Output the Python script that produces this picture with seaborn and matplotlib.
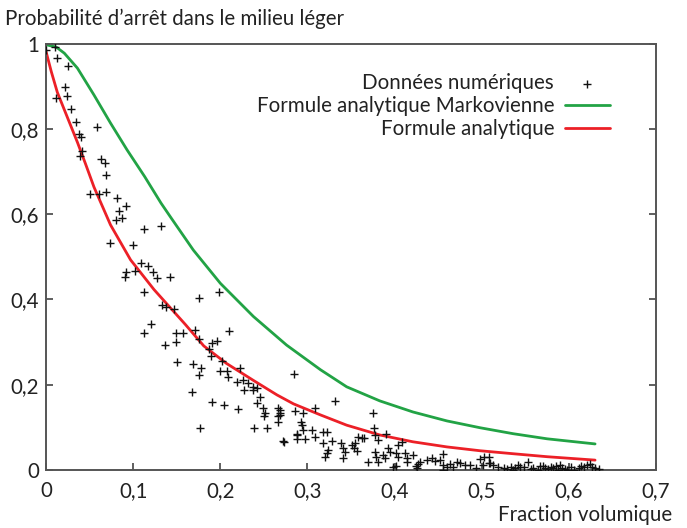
"""
Probabilité d'arrêt dans le milieu léger vs fraction volumique
"""
import matplotlib
matplotlib.use("Agg")
import matplotlib.pyplot as plt
import pandas as pd
import seaborn as sns

# numerical data
pts_x = [
    0.000, 0.010, 0.013, 0.025, 0.022, 0.024, 0.012, 0.029, 0.034, 0.038, 0.040, 0.041, 0.039,
    0.059, 0.063, 0.068, 0.069, 0.050, 0.061, 0.069, 0.082, 0.092, 0.084, 0.087, 0.080, 0.112,
    0.132, 0.073, 0.100, 0.109, 0.117, 0.123, 0.092, 0.091, 0.102, 0.127, 0.142, 0.112, 0.198,
    0.175, 0.133, 0.138, 0.147, 0.121, 0.112, 0.149, 0.157, 0.171, 0.210, 0.137, 0.149, 0.176,
    0.190, 0.196, 0.187, 0.189, 0.150, 0.169, 0.178, 0.175, 0.202, 0.200, 0.208, 0.209, 0.223,
    0.219, 0.226, 0.227, 0.232, 0.238, 0.242, 0.238, 0.245, 0.242, 0.168, 0.190, 0.204, 0.220,
    0.249, 0.251, 0.250, 0.266, 0.269, 0.266, 0.266, 0.285, 0.177, 0.239, 0.254, 0.272, 0.288,
    0.288, 0.269, 0.269, 0.273, 0.286, 0.295, 0.309, 0.332, 0.293, 0.294, 0.295, 0.288, 0.297,
    0.305, 0.309, 0.318, 0.322, 0.318, 0.328, 0.324, 0.322, 0.320, 0.338, 0.341, 0.343, 0.341,
    0.351, 0.353, 0.357, 0.355, 0.358, 0.362, 0.365, 0.375, 0.376, 0.377, 0.381, 0.390, 0.377,
    0.379, 0.381, 0.369, 0.387, 0.389, 0.392, 0.395, 0.404, 0.408, 0.402, 0.404, 0.398, 0.402,
    0.412, 0.414, 0.414, 0.421, 0.424, 0.426, 0.427, 0.429, 0.437, 0.443, 0.446, 0.452, 0.456,
    0.456, 0.460, 0.464, 0.467, 0.471, 0.456, 0.475, 0.481, 0.487, 0.493, 0.498, 0.502, 0.508,
    0.508, 0.513, 0.519, 0.525, 0.533, 0.536, 0.538, 0.544, 0.548, 0.553, 0.556, 0.559, 0.564,
    0.570, 0.573, 0.576, 0.579, 0.582, 0.585, 0.588, 0.592, 0.595, 0.598, 0.602, 0.606, 0.611,
    0.617, 0.621, 0.627, 0.630, 0.634, 0.501, 0.510, 0.529, 0.541, 0.567, 0.590, 0.614, 0.624,
]
pts_y = [
    0.986, 0.993, 0.967, 0.948, 0.899, 0.878, 0.873, 0.847, 0.817, 0.789, 0.782, 0.749, 0.737,
    0.805, 0.730, 0.720, 0.692, 0.648, 0.648, 0.653, 0.638, 0.620, 0.608, 0.592, 0.587, 0.566,
    0.573, 0.533, 0.528, 0.486, 0.479, 0.465, 0.465, 0.453, 0.467, 0.451, 0.453, 0.418, 0.418,
    0.404, 0.387, 0.383, 0.378, 0.343, 0.322, 0.322, 0.322, 0.329, 0.326, 0.293, 0.300, 0.308,
    0.298, 0.303, 0.284, 0.268, 0.254, 0.249, 0.239, 0.223, 0.256, 0.232, 0.232, 0.218, 0.239,
    0.207, 0.211, 0.188, 0.204, 0.195, 0.192, 0.188, 0.171, 0.157, 0.183, 0.160, 0.153, 0.143,
    0.146, 0.134, 0.127, 0.146, 0.134, 0.127, 0.113, 0.225, 0.099, 0.099, 0.099, 0.068, 0.082,
    0.073, 0.141, 0.129, 0.066, 0.138, 0.134, 0.146, 0.162, 0.113, 0.106, 0.094, 0.085, 0.073,
    0.094, 0.078, 0.090, 0.090, 0.064, 0.068, 0.047, 0.040, 0.031, 0.064, 0.052, 0.043, 0.028,
    0.059, 0.052, 0.045, 0.064, 0.078, 0.075, 0.075, 0.134, 0.099, 0.082, 0.070, 0.085, 0.043,
    0.031, 0.019, 0.019, 0.035, 0.028, 0.052, 0.043, 0.059, 0.066, 0.040, 0.031, 0.007, 0.009,
    0.040, 0.028, 0.019, 0.035, 0.009, 0.005, 0.014, 0.019, 0.023, 0.028, 0.021, 0.023, 0.038,
    0.012, 0.007, 0.014, 0.007, 0.019, 0.000, 0.016, 0.012, 0.012, 0.005, 0.026, 0.031, 0.031,
    0.016, 0.012, 0.007, 0.005, 0.007, 0.000, 0.005, 0.007, 0.007, 0.019, 0.002, 0.005, 0.000,
    0.009, 0.005, 0.002, 0.007, 0.005, 0.009, 0.000, 0.005, 0.002, 0.000, 0.007, 0.000, 0.005,
    0.007, 0.012, 0.007, 0.005, 0.002, 0.012, 0.016, 0.002, 0.012, 0.009, 0.012, 0.009, 0.014,
]

# analytic curves
markov_x = [0.000, 0.012, 0.021, 0.036, 0.055, 0.074, 0.093, 0.113, 0.132, 0.144, 0.169,
            0.200, 0.238, 0.276, 0.315, 0.345, 0.383, 0.421, 0.460, 0.498, 0.536, 0.575,
            0.630]
markov_y = [0.998, 0.992, 0.978, 0.943, 0.880, 0.814, 0.751, 0.689, 0.626, 0.590, 0.516,
            0.438, 0.360, 0.293, 0.235, 0.195, 0.162, 0.136, 0.115, 0.099, 0.085, 0.073,
            0.061]

analytic_x = [0.000, 0.006, 0.013, 0.024, 0.036, 0.045, 0.055, 0.074, 0.097, 0.124, 0.142,
              0.160, 0.181, 0.207, 0.238, 0.265, 0.284, 0.315, 0.345, 0.383, 0.421, 0.460,
              0.498, 0.536, 0.575, 0.630]
analytic_y = [0.982, 0.935, 0.886, 0.830, 0.769, 0.720, 0.664, 0.575, 0.493, 0.423, 0.382,
              0.341, 0.291, 0.250, 0.210, 0.176, 0.155, 0.129, 0.105, 0.082, 0.066, 0.054,
              0.045, 0.038, 0.031, 0.023]

x_ticks = [0, 0.1, 0.2, 0.3, 0.4, 0.5, 0.6, 0.7]
x_tick_labels = ["0", "0,1", "0,2", "0,3", "0,4", "0,5", "0,6", "0,7"]
y_ticks = [0, 0.2, 0.4, 0.6, 0.8, 1.0]
y_tick_labels = ["0", "0,2", "0,4", "0,6", "0,8", "1"]

sns.set_theme(style="white")
plt.rcParams["font.family"] = ["Lato", "DejaVu Sans"]
plt.rcParams["text.color"] = "#222222"

GREEN = "#22a345"
RED = "#ec2027"
FS = 14.8

fig = plt.figure(figsize=(6.87, 5.28), dpi=100, facecolor="w")
ax = fig.add_axes([0.067, 0.110, 0.888, 0.807])

pts = pd.DataFrame({"x": pts_x, "y": pts_y})
markov = pd.DataFrame({"x": markov_x, "y": markov_y})
analytic = pd.DataFrame({"x": analytic_x, "y": analytic_y})

sns.scatterplot(data=pts, x="x", y="y", ax=ax, marker="+", color="#111111",
                s=40, linewidth=1.0, label="Données numériques", zorder=3)
sns.lineplot(data=markov, x="x", y="y", ax=ax, color=GREEN, linewidth=2.0,
             sort=False, estimator=None, label="Formule analytique Markovienne")
sns.lineplot(data=analytic, x="x", y="y", ax=ax, color=RED, linewidth=2.0,
             sort=False, estimator=None, label="Formule analytique")

ax.set_xlim(0, 0.7)
ax.set_ylim(0, 1)
ax.set_xticks(x_ticks, x_tick_labels)
ax.set_yticks(y_ticks, y_tick_labels)
ax.set_xlabel("")
ax.set_ylabel("")
ax.tick_params(axis="both", direction="in", length=5, width=1.2, color="#444444",
               labelsize=FS, labelcolor="#222222")
ax.tick_params(axis="x", pad=8)
ax.tick_params(axis="y", pad=5, right=True, left=True)
ax.tick_params(axis="x", bottom=True, top=False)
for sp in ax.spines.values():
    sp.set_color("#555555")
    sp.set_linewidth(1.4)

leg = ax.legend(loc="upper right", bbox_to_anchor=(0.954, 0.975), frameon=False,
                markerfirst=False, fontsize=FS, handlelength=2.15, labelspacing=0.15,
                handletextpad=0.55)
for t in leg.get_texts():
    t.set_ha("right")

fig.text(0.007, 0.965, "Probabilité d’arrêt dans le milieu léger", fontsize=FS,
         ha="left", va="center", color="#222222")
fig.text(0.978, 0.024, "Fraction volumique", fontsize=FS, ha="right", va="center",
         color="#222222")

fig.savefig("out.png", dpi=100)
